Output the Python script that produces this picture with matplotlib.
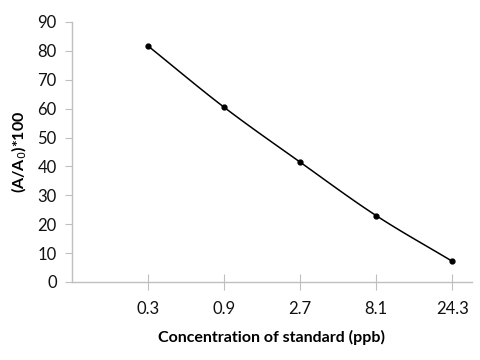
import numpy as np
import matplotlib.pyplot as plt

# Standard curve data
concentrations = ['0.3', '0.9', '2.7', '8.1', '24.3']
response = [81.7, 60.5, 41.5, 23.0, 7.2]

plt.rcParams['font.family'] = ['Lato', 'DejaVu Sans']

fig = plt.figure(figsize=(4.8, 3.6), dpi=100)
ax = fig.add_axes([0.15, 0.2167, 0.833, 0.7223])

x = np.arange(1, len(response) + 1)
y = np.array(response)

# Catmull-Rom smoothing, like Excel's smoothed line
def smooth(px, py, n=30):
    px = np.concatenate([[2 * px[0] - px[1]], px, [2 * px[-1] - px[-2]]])
    py = np.concatenate([[2 * py[0] - py[1]], py, [2 * py[-1] - py[-2]]])
    xs, ys = [], []
    t = np.linspace(0, 1, n)
    for i in range(1, len(px) - 2):
        for arr, out in ((px, xs), (py, ys)):
            p0, p1, p2, p3 = arr[i - 1], arr[i], arr[i + 1], arr[i + 2]
            out.extend(0.5 * ((2 * p1) + (-p0 + p2) * t
                              + (2 * p0 - 5 * p1 + 4 * p2 - p3) * t ** 2
                              + (-p0 + 3 * p1 - 3 * p2 + p3) * t ** 3))
    return np.array(xs), np.array(ys)

sx, sy = smooth(x.astype(float), y)
ax.plot(sx, sy, color='black', lw=1.1)
ax.plot(x, y, 'o', color='black', markersize=3.5)

ax.set_xlim(0, 5.26)
ax.set_ylim(0, 90)
ax.set_yticks(range(0, 91, 10))
ax.set_xticks(x)
ax.set_xticklabels(concentrations)

for s in ['top', 'right']:
    ax.spines[s].set_visible(False)
for s in ['left', 'bottom']:
    ax.spines[s].set_color('#bfbfbf')
    ax.spines[s].set_linewidth(1)

ax.tick_params(axis='y', direction='out', length=5, color='#bfbfbf',
               labelsize=12, pad=6, labelcolor='#111111')
ax.tick_params(axis='x', direction='inout', length=12, color='#bfbfbf',
               labelsize=12, pad=8, labelcolor='#111111')

ax.set_ylabel('(A/A$_0$)*100', fontsize=11.5, fontweight='bold', labelpad=6)
ax.set_xlabel('Concentration of standard (ppb)', fontsize=11.5,
              fontweight='bold', labelpad=9)

fig.savefig('out.png', dpi=100)
